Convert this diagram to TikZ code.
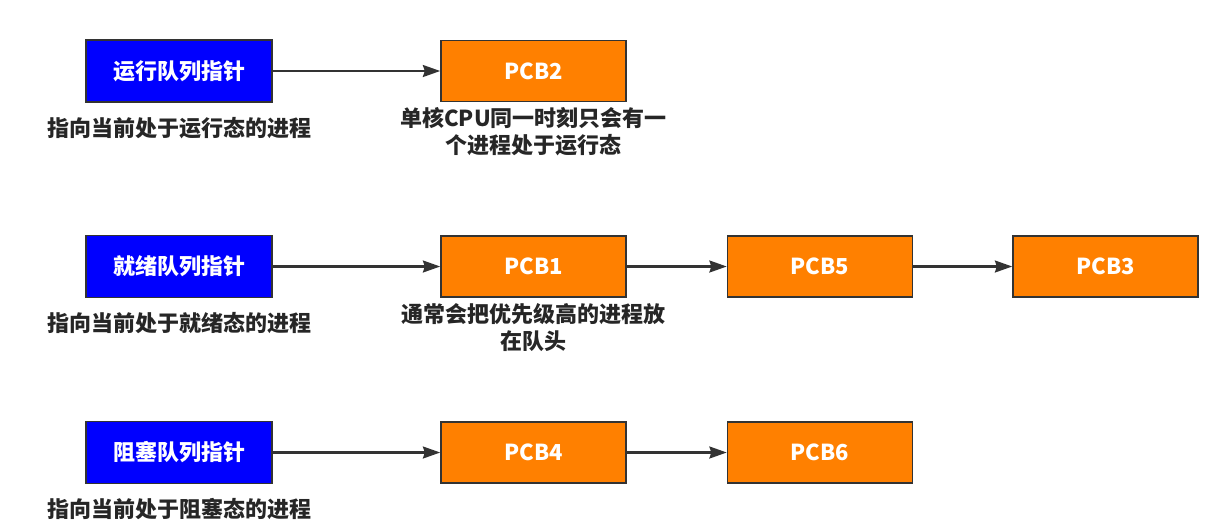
\documentclass[tikz,border=0pt]{standalone}
\usepackage{fontspec}
\setmainfont{Noto Sans CJK SC}
\usetikzlibrary{arrows.meta}
\definecolor{ptrblue}{HTML}{0000FF}
\definecolor{pcborange}{HTML}{FF8000}
\definecolor{edgegray}{HTML}{333333}
\begin{document}
\begin{tikzpicture}[x=0.75pt, y=-0.75pt, font=\fontsize{16.5}{20}\selectfont\bfseries,
          >={Stealth[length=13pt,width=9pt,inset=1.5pt]},
          ptr/.style={draw=edgegray, line width=1.2pt, fill=ptrblue, text=white, minimum width=139.5pt, minimum height=46.5pt, inner sep=1pt},
          pcb/.style={draw=edgegray, line width=1.2pt, fill=pcborange, text=white, minimum width=138.75pt, minimum height=46pt, inner sep=1pt},
          note/.style={text=black!85, align=center, inner sep=0pt},
          link/.style={->, draw=edgegray, line width=1.6pt}]
        \useasboundingbox (0,0) rectangle (1209,526);
        % queue heads
        \foreach \nm/\py/\st in {1/71/运行, 2/266.5/就绪, 3/452.5/阻塞} {
          \node[ptr] (q\nm) at (179,\py) {\st 队列指针};
          \node[note] (d\nm) at (179,\py+57) {指向当前处于\st 态的进程};
        }
        % process control blocks
        \node[pcb] (p2) at (533.5,71) {PCB2};
        \node[pcb] (p1) at (533.5,266.5) {PCB1};
        \node[pcb] (p5) at (820,266.5) {PCB5};
        \node[pcb] (p3) at (1105.5,266.5) {PCB3};
        \node[pcb] (p4) at (533.5,452.5) {PCB4};
        \node[pcb] (p6) at (820,452.5) {PCB6};
        \node[note] (n2) at (533.5,131.5) {单核CPU同一时刻只会有一\\个进程处于运行态};
        \node[note] (n1) at (533.5,327.5) {通常会把优先级高的进程放\\在队头};
        \draw[link] (q1) -- (p2);
        \draw[link] (q2) -- (p1);
        \draw[link] (p1) -- (p5);
        \draw[link] (p5) -- (p3);
        \draw[link] (q3) -- (p4);
        \draw[link] (p4) -- (p6);
      \end{tikzpicture}
\end{document}
